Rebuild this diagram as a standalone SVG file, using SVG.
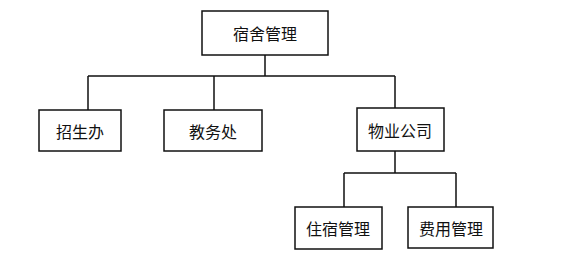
<svg xmlns="http://www.w3.org/2000/svg" width="564" height="271" viewBox="0 0 564 271">
<style>
.box{fill:#fff;stroke:#111;stroke-width:1.5}
.lbl{font-family:"Noto Sans CJK SC","Noto Sans",sans-serif;font-size:16px;fill:#111;text-anchor:middle;dominant-baseline:central}
.ln{fill:none;stroke:#111;stroke-width:1.5}
</style>
<rect width="564" height="271" fill="#fff"/>
<g id="connectors">
<path class="ln" d="M265,55 V76 M88,76 H395 M88,76 V110 M214,76 V110 M395,76 V108 M395,151 V173 M344,173 H456 M344,173 V207 M456,173 V207"/>
</g>
<g id="n-top"><rect class="box" x="202" y="11" width="126" height="44"/><text class="lbl" x="265" y="33">宿舍管理</text></g>
<g id="n-zsb"><rect class="box" x="39" y="110" width="82" height="41"/><text class="lbl" x="80" y="131">招生办</text></g>
<g id="n-jwc"><rect class="box" x="164" y="110" width="98" height="41"/><text class="lbl" x="213" y="131">教务处</text></g>
<g id="n-wygs"><rect class="box" x="357" y="108" width="87" height="43"/><text class="lbl" x="400" y="130">物业公司</text></g>
<g id="n-zsgl"><rect class="box" x="295" y="207" width="87" height="42"/><text class="lbl" x="338" y="228">住宿管理</text></g>
<g id="n-fygl"><rect class="box" x="408" y="207" width="85" height="41"/><text class="lbl" x="451" y="228">费用管理</text></g>
</svg>
